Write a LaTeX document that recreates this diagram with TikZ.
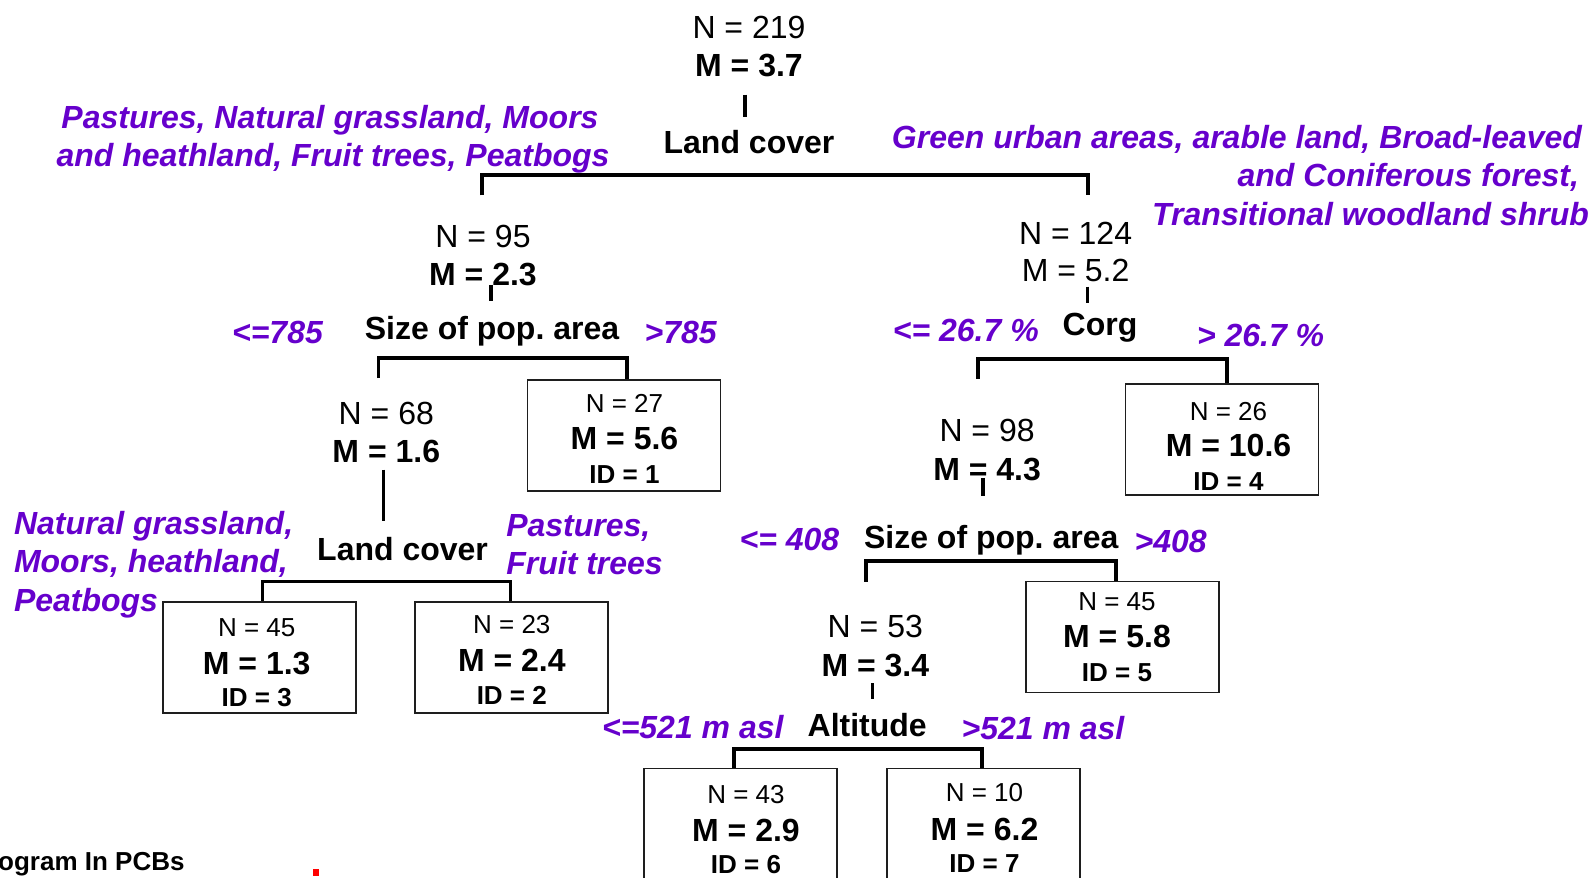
\documentclass[tikz,border=0pt]{standalone}
\usepackage{fontspec}
\setmainfont{Liberation Sans}
\usetikzlibrary{calc}
\frenchspacing
\definecolor{split}{RGB}{102,0,204}
\definecolor{boxline}{RGB}{30,30,30}
\tikzset{
  txt/.style={anchor=base,inner sep=0pt,outer sep=0pt,font=\fontsize{32bp}{38bp}\selectfont},
  txtb/.style={txt,font=\fontsize{32bp}{38bp}\selectfont\bfseries},
  small/.style={anchor=base,inner sep=0pt,outer sep=0pt,font=\fontsize{26bp}{30bp}\selectfont},
  smallb/.style={small,font=\fontsize{26bp}{30bp}\selectfont\bfseries},
  cond/.style={anchor=base,inner sep=0pt,outer sep=0pt,text=split,font=\fontsize{32bp}{38bp}\selectfont\bfseries\itshape},
  leaf/.style={draw=boxline,line width=1.8bp,minimum width=193bp,minimum height=111bp,inner sep=0pt,anchor=north},
  br/.style={line width=3.5bp},
  tick/.style={line width=3.2bp},
}
\begin{document}
\begin{tikzpicture}[x=1bp,y=-1bp]
\useasboundingbox (0,0) rectangle (1594,877);
% ---------- root ----------
\node[txt]  (n219) at (749,38.9) {N = 219};
\node[txtb] (m37)  at (749,76.6) {M = 3.7};
\node[txtb] (lc1)  at (749,153.8) {Land cover};
\coordinate (t1a) at (745,94.5);
\coordinate (t1b) at (745,117);
\draw[tick] (t1a) -- (t1b);
\node[cond] (cl1a) at (330,128.4) {Pastures, Natural grassland, Moors};
\node[cond] (cl1b) at (333,166) {and heathland, Fruit trees, Peatbogs};
\node[cond,anchor=base east] (cr1a) at (1582,148.7) {Green urban areas, arable land, Broad-leaved};
\node[cond,anchor=base east] (cr1b) at (1579,186.4) {and Coniferous forest,};
\node[cond,anchor=base east] (cr1c) at (1589,225) {Transitional woodland shrub};
\coordinate (b1l) at (482,174.9);
\coordinate (b1r) at (1088,174.9);
\draw[br] ($(b1l)+(0,20.5)$) -- (b1l) -- (b1r) -- ($(b1r)+(0,20.5)$);
% ---------- N = 95 ----------
\node[txt]  (n95) at (483,247.3) {N = 95};
\node[txtb] (m23) at (483,285) {M = 2.3};
\coordinate (t2a) at (491,284.6);
\coordinate (t2b) at (491,301);
\draw[tick] (t2a) -- (t2b);
\node[txtb] (sp1) at (492,339.9) {Size of pop. area};
\node[cond] (c785a) at (277.5,343.9) {<=785};
\node[cond] (c785b) at (680.6,343.9) {>785};
\coordinate (b2l) at (378.5,358);
\coordinate (b2r) at (627,358);
% ---------- box ID 1 ----------
\node[leaf] (box1) at (624,379) {};
\node[small] (box1n) at (624.5,412.5) {N = 27};
\node[txtb]  (box1m) at (624.5,449.5) {M = 5.6};
\node[smallb](box1i) at (624.5,483) {ID = 1};
\draw[br] ($(b2l)+(0,20)$) -- (b2l) -- (b2r) -- (b2r |- box1.north);
% ---------- N = 68 ----------
\node[txt]  (n68) at (386.3,424.2) {N = 68};
\node[txtb] (m16) at (386.3,462.9) {M = 1.6};
\coordinate (t3a) at (383.3,469.7);
\coordinate (t3b) at (383.3,520.5);
\draw[tick] (t3a) -- (t3b);
\node[txtb] (lc2) at (402.6,560.5) {Land cover};
\node[cond,anchor=base west] (cl2a) at (14,534) {Natural grassland,};
\node[cond,anchor=base west] (cl2b) at (14,572.7) {Moors, heathland,};
\node[cond,anchor=base west] (cl2c) at (14,611.3) {Peatbogs};
\node[cond,anchor=base west] (cr2a) at (506.3,536.1) {Pastures,};
\node[cond,anchor=base west] (cr2b) at (506.3,574.7) {Fruit trees};
% ---------- box ID 3 / ID 2 ----------
\node[leaf] (box3) at (259.2,600.8) {};
\node[small] (box3n) at (256.7,636.6) {N = 45};
\node[txtb]  (box3m) at (256.7,674.3) {M = 1.3};
\node[smallb](box3i) at (256.7,706.8) {ID = 3};
\node[leaf] (box2) at (511.3,600.8) {};
\node[small] (box2n) at (511.8,633.6) {N = 23};
\node[txtb]  (box2m) at (511.8,671.3) {M = 2.4};
\node[smallb](box2i) at (511.8,704.8) {ID = 2};
\coordinate (b3l) at (262.3,581.5);
\coordinate (b3r) at (510.3,581.5);
\draw[br] (b3l |- box3.north) -- (b3l) -- (b3r) -- (b3r |- box2.north);
% ---------- N = 124 ----------
\node[txt] (n124) at (1075.6,244.3) {N = 124};
\node[txt] (m52)  at (1075.6,281.9) {M = 5.2};
\coordinate (t4a) at (1087.8,286.7);
\coordinate (t4b) at (1087.8,303);
\draw[tick] (t4a) -- (t4b);
\node[txtb] (corg) at (1100,335.8) {Corg};
\node[cond] (c267a) at (965.8,341.9) {<= 26.7 \%};
\node[cond] (c267b) at (1260.6,346) {> 26.7 \%};
% ---------- box ID 4 ----------
\node[leaf] (box4) at (1222,383.3) {};
\node[small] (box4n) at (1228.5,420.1) {N = 26};
\node[txtb]  (box4m) at (1228.5,456.8) {M = 10.6};
\node[smallb](box4i) at (1228.5,490.3) {ID = 4};
\coordinate (b4l) at (978,359);
\coordinate (b4r) at (1227,359);
\draw[br] ($(b4l)+(0,19.5)$) -- (b4l) -- (b4r) -- (b4r |- box4.north);
% ---------- N = 98 ----------
\node[txt]  (n98) at (987.1,441.5) {N = 98};
\node[txtb] (m43) at (987.1,480.2) {M = 4.3};
\coordinate (t5a) at (983,477.8);
\coordinate (t5b) at (983,496.1);
\draw[tick] (t5a) -- (t5b);
\node[txtb] (sp2) at (991.2,548.3) {Size of pop. area};
\node[cond] (c408a) at (789.4,550.3) {<= 408};
\node[cond] (c408b) at (1170.6,552.3) {>408};
% ---------- box ID 5 ----------
\node[leaf] (box5) at (1122.8,580.5) {};
\node[small] (box5n) at (1117,610.2) {N = 45};
\node[txtb]  (box5m) at (1117,647.9) {M = 5.8};
\node[smallb](box5i) at (1117,681.4) {ID = 5};
\coordinate (b5l) at (866.1,561.2);
\coordinate (b5r) at (1116.2,561.2);
\draw[br] ($(b5l)+(0,20.3)$) -- (b5l) -- (b5r) -- (b5r |- box5.north);
% ---------- N = 53 ----------
\node[txt]  (n53) at (875.3,637.7) {N = 53};
\node[txtb] (m34) at (875.3,676.4) {M = 3.4};
\coordinate (t6a) at (872.2,683.2);
\coordinate (t6b) at (872.2,699.4);
\draw[tick] (t6a) -- (t6b);
\node[txtb] (alt) at (867.2,736.3) {Altitude};
\node[cond] (c521a) at (692.8,738.4) {<=521 m asl};
\node[cond] (c521b) at (1043,739.4) {>521 m asl};
% ---------- box ID 6 / ID 7 ----------
\node[leaf] (box6) at (740.1,767.5) {};
\node[small] (box6n) at (746,803.4) {N = 43};
\node[txtb]  (box6m) at (746,841) {M = 2.9};
\node[smallb](box6i) at (746,873.5) {ID = 6};
\node[leaf] (box7) at (983.6,767.5) {};
\node[small] (box7n) at (984.5,801.3) {N = 10};
\node[txtb]  (box7m) at (984.5,840) {M = 6.2};
\node[smallb](box7i) at (984.5,872.5) {ID = 7};
\coordinate (b6l) at (734,749.2);
\coordinate (b6r) at (982,749.2);
\draw[br] (b6l |- box6.north) -- (b6l) -- (b6r) -- (b6r |- box7.north);
% ---------- footer ----------
\node[anchor=base west,inner sep=0pt,font=\fontsize{26bp}{30bp}\selectfont\bfseries] (foot) at (-2,870) {ogram In PCBs};
\fill[red] (313,869) rectangle (319,876);
\end{tikzpicture}
\end{document}
